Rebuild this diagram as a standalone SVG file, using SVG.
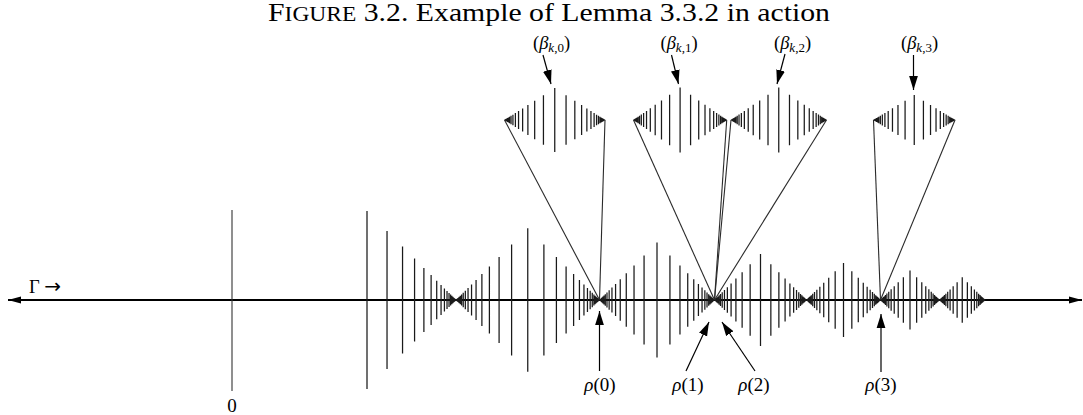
<svg xmlns="http://www.w3.org/2000/svg" width="1083" height="415" viewBox="0 0 1083 415">
<style>
text{font-family:"Liberation Serif","DejaVu Serif",serif;fill:#000}
.it{font-style:italic}
.cn{stroke:#2a2a2a;stroke-width:1.1;fill:none}
.ar{stroke:#000;stroke-width:1.2;fill:none;marker-end:url(#ah)}
</style>
<defs>
<marker id="ah" markerUnits="userSpaceOnUse" markerWidth="14" markerHeight="10" refX="14" refY="5" orient="auto" viewBox="0 0 14 10"><path d="M0,0.6 L14,5 L0,9.4 z" fill="#000"/></marker>
<marker id="ax" markerUnits="userSpaceOnUse" markerWidth="14" markerHeight="8" refX="13" refY="4" orient="auto-start-reverse" viewBox="0 0 14 8"><path d="M0,0.6 L13,4 L0,7.4 z" fill="#000"/></marker>
<path id="h" stroke="#1a1a1a" stroke-width="1.25" fill="none" vector-effect="non-scaling-stroke" d="M.775-.775V.775M.6006-.6006V.6006M.4655-.4655V.4655M.3608-.3608V.3608M.2796-.2796V.2796M.2167-.2167V.2167M.1679-.1679V.1679M.1301-.1301V.1301M.1009-.1009V.1009M.0782-.0782V.0782M.0606-.0606V.0606M.0469-.0469V.0469M.0364-.0364V.0364M.0282-.0282V.0282M.0219-.0219V.0219M.0169-.0169V.0169M.0131-.0131V.0131M.0102-.0102V.0102M.0079-.0079V.0079M.0061-.0061V.0061"/>
<g id="h0"><path stroke="#1a1a1a" stroke-width="1.25" fill="none" vector-effect="non-scaling-stroke" d="M1-1V1"/><use href="#h"/></g>
</defs>
<rect width="1083" height="415" fill="#fff"/>

<g id="title"><text x="268" y="21" font-size="26" textLength="562" lengthAdjust="spacingAndGlyphs">F<tspan font-size="20.5">IGURE</tspan> 3.2. Example of Lemma 3.3.2 in action</text></g>

<g id="axis">
<line x1="8" y1="300" x2="1082" y2="300" stroke="#000" stroke-width="2" marker-start="url(#ax)" marker-end="url(#ax)"/>
<text x="29" y="293" font-size="18.5">Γ <tspan font-family="DejaVu Sans, sans-serif" font-size="20">→</tspan></text>
</g>

<g id="zero-mark">
<line x1="232" y1="210" x2="232" y2="391" stroke="#333" stroke-width="1.1"/>
<text x="232" y="412" font-size="19" text-anchor="middle">0</text>
</g>

<g id="main-pattern">
<use href="#h0" transform="translate(456 300) scale(-89 89)"/>
<use href="#h0" transform="translate(456 300) scale(71.75)"/>
<use href="#h" transform="translate(599.5 300) scale(-71.75 71.75)"/>
<use href="#h0" transform="translate(599.5 300) scale(57.5)"/>
<use href="#h" transform="translate(714.5 300) scale(-57.5 57.5)"/>
<use href="#h0" transform="translate(714.5 300) scale(46)"/>
<use href="#h" transform="translate(806.5 300) scale(-46 46)"/>
<use href="#h0" transform="translate(806.5 300) scale(37)"/>
<use href="#h" transform="translate(880.5 300) scale(-37 37)"/>
<use href="#h0" transform="translate(880.5 300) scale(29.5)"/>
<use href="#h" transform="translate(939.5 300) scale(-29.5 29.5)"/>
<use href="#h0" transform="translate(939.5 300) scale(22.75)"/>
<use href="#h" transform="translate(985 300) scale(-22.75 22.75)"/>
</g>

<g id="cluster-0">
<use href="#h0" transform="translate(504.5 120) scale(50.25 32)"/>
<use href="#h" transform="translate(605 120) scale(-50.25 32)"/>
</g>
<g id="cluster-1">
<use href="#h0" transform="translate(633.5 120) scale(46.6 32.5)"/>
<use href="#h" transform="translate(726.7 120) scale(-46.6 32.5)"/>
</g>
<g id="cluster-2">
<use href="#h0" transform="translate(731 120) scale(47.75 32.5)"/>
<use href="#h" transform="translate(826.5 120) scale(-47.75 32.5)"/>
</g>
<g id="cluster-3">
<use href="#h0" transform="translate(873.5 120) scale(40.75 25)"/>
<use href="#h" transform="translate(955 120) scale(-40.75 25)"/>
</g>

<g id="beta-labels" font-size="18.5">
<text x="551.5" y="48.5" text-anchor="middle">(<tspan class="it">β</tspan><tspan class="it" font-size="13" dy="3">k</tspan><tspan font-size="13">,0</tspan><tspan dy="-3">)</tspan></text>
<text x="679" y="48.5" text-anchor="middle">(<tspan class="it">β</tspan><tspan class="it" font-size="13" dy="3">k</tspan><tspan font-size="13">,1</tspan><tspan dy="-3">)</tspan></text>
<text x="792.5" y="48.5" text-anchor="middle">(<tspan class="it">β</tspan><tspan class="it" font-size="13" dy="3">k</tspan><tspan font-size="13">,2</tspan><tspan dy="-3">)</tspan></text>
<text x="919.5" y="48.5" text-anchor="middle">(<tspan class="it">β</tspan><tspan class="it" font-size="13" dy="3">k</tspan><tspan font-size="13">,3</tspan><tspan dy="-3">)</tspan></text>
</g>

<g id="rho-labels" font-size="19">
<text x="600" y="391" text-anchor="middle"><tspan class="it">ρ</tspan>(0)</text>
<text x="688" y="391" text-anchor="middle"><tspan class="it">ρ</tspan>(1)</text>
<text x="754" y="391" text-anchor="middle"><tspan class="it">ρ</tspan>(2)</text>
<text x="881" y="391" text-anchor="middle"><tspan class="it">ρ</tspan>(3)</text>
</g>

<g id="connectors">
<line class="cn" x1="504.5" y1="120" x2="599.5" y2="300"/>
<line class="cn" x1="605" y1="120" x2="599.5" y2="300"/>
<line class="cn" x1="633.5" y1="120" x2="714.5" y2="300"/>
<line class="cn" x1="726.7" y1="120" x2="714.5" y2="300"/>
<line class="cn" x1="731" y1="120" x2="714.5" y2="300"/>
<line class="cn" x1="826.5" y1="120" x2="714.5" y2="300"/>
<line class="cn" x1="873.5" y1="120" x2="880.5" y2="300"/>
<line class="cn" x1="955" y1="120" x2="880.5" y2="300"/>
<line class="ar" x1="543" y1="55" x2="551" y2="84"/>
<line class="ar" x1="671.5" y1="55" x2="678.5" y2="84"/>
<line class="ar" x1="785" y1="54" x2="777" y2="84"/>
<line class="ar" x1="913.5" y1="55" x2="913.5" y2="90"/>
<line class="ar" x1="599.5" y1="371" x2="599.5" y2="311"/>
<line class="ar" x1="686" y1="371" x2="709" y2="322"/>
<line class="ar" x1="755" y1="371" x2="722" y2="322"/>
<line class="ar" x1="881" y1="372" x2="881" y2="314"/>
</g>
</svg>
